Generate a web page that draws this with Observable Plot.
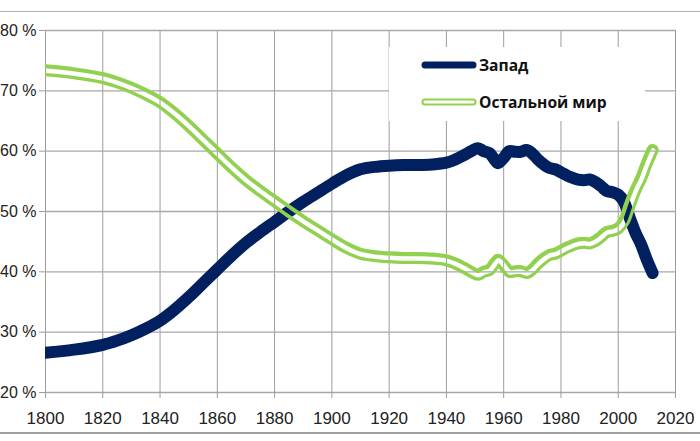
<!DOCTYPE html>
<html>
<head>
<meta charset="utf-8">
<script src="https://cdn.jsdelivr.net/npm/d3@7"></script>
<script src="https://cdn.jsdelivr.net/npm/@observablehq/plot@0.6"></script>
<style>
  body { margin: 0; background: #fff; }
  #wrap { position: relative; width: 700px; height: 441px; overflow: hidden; background: #fff; }
  .hline { position: absolute; left: 0; width: 700px; }
  #legend { position: absolute; left: 389px; top: 47px; width: 256px; height: 74px; background: #fff;
            font-family: "Open Sans", sans-serif; font-weight: 700; font-size: 15.6px; color: #111; }
  .item { position: absolute; left: 32px; display: flex; align-items: center; }
  .item span { margin-left: 2px; }
</style>
</head>
<body>
<div id="wrap">
  <div id="chart"></div>
  <div class="hline" style="top:11px;height:1px;background:#b0b0b0"></div>
  <div class="hline" style="top:432px;height:2px;background:#a0a0a0"></div>
  <div id="legend"></div>
</div>
<script>
const years = [1800,1810,1820,1825,1830,1835,1840,1845,1850,1855,1860,1865,1870,1875,1880,1885,1890,1895,1900,1905,1910,1915,1920,1925,1930,1935,1940,1943,1946,1949,1951,1953,1955,1957,1958,1960,1962,1964,1966,1968,1970,1972,1974,1976,1978,1980,1982,1984,1986,1988,1990,1992,1994,1996,1998,2000,2002,2004,2006,2008,2010,2012];
const west = [26.6,27.1,27.9,28.6,29.5,30.6,31.9,33.7,35.8,38.1,40.4,42.7,44.8,46.6,48.3,50.0,51.6,53.1,54.6,56.0,57.0,57.4,57.6,57.7,57.7,57.8,58.1,58.6,59.3,60.1,60.5,60.0,59.7,58.5,58.0,58.9,60.0,59.9,59.9,60.2,59.6,58.6,57.8,57.2,57.0,56.5,56.0,55.6,55.3,55.2,55.3,54.9,54.2,53.4,53.2,52.8,51.6,49.0,46.5,44.5,42.0,39.8];
const rest = [73.4,72.9,72.1,71.4,70.5,69.4,68.1,66.3,64.2,61.9,59.6,57.3,55.2,53.4,51.7,50.0,48.4,46.9,45.4,44.0,43.0,42.6,42.4,42.3,42.3,42.2,41.9,41.4,40.7,39.9,39.5,40.0,40.3,41.5,42.0,41.1,40.0,40.1,40.1,39.8,40.4,41.4,42.2,42.8,43.0,43.5,44.0,44.4,44.7,44.8,44.7,45.1,45.8,46.6,46.8,47.2,48.4,51.0,53.5,55.5,58.0,60.2];
const seriesNames = ["Запад", "Остальной мир"];
const yTicks = [20,30,40,50,60,70,80];
const xTicks = [1800,1820,1840,1860,1880,1900,1920,1940,1960,1980,2000,2020];

const navy = "#002060";
const green = "#92d050";

const westData = years.map((y, i) => ({year: y, value: west[i]}));
const restData = years.map((y, i) => ({year: y, value: rest[i]}));

const chart = Plot.plot({
  width: 700,
  height: 441,
  marginTop: 30,
  marginBottom: 49,
  marginLeft: 45,
  marginRight: 25,
  style: {fontFamily: "Liberation Sans, Arial, sans-serif", fontSize: "17px", color: "#222", background: "#fff"},
  x: {domain: [1800, 2020], ticks: xTicks, tickFormat: d => String(d), label: null},
  y: {domain: [20, 80], ticks: yTicks, tickFormat: d => d + " %", label: null},
  marks: [
    Plot.gridX(xTicks, {stroke: "#9c9c9c", strokeOpacity: 1, strokeWidth: 1}),
    Plot.gridY(yTicks, {stroke: "#a8a8a8", strokeOpacity: 1, strokeWidth: 1.3}),
    Plot.axisX({ticks: xTicks, tickFormat: d => String(d), tickSize: 6, tickPadding: 13, stroke: "#9c9c9c", label: null}),
    Plot.axisY({ticks: yTicks, tickFormat: d => d + " %", tickSize: 6, tickPadding: 3, stroke: "#9c9c9c", label: null, fontSize: 16}),
    Plot.line(westData, {x: "year", y: "value", stroke: navy, strokeWidth: 12, curve: "catmull-rom", strokeLinecap: "round", strokeLinejoin: "round", clip: true}),
    Plot.line(restData, {x: "year", y: "value", stroke: green, strokeWidth: 12, curve: "catmull-rom", strokeLinecap: "round", strokeLinejoin: "round", clip: true})
  ]
});
document.getElementById("chart").appendChild(chart);

// make the green line a hollow "double" line (gap shows what is underneath)
const svg = d3.select(chart);
const restG = svg.selectAll("g").filter(function() { return this.getAttribute("stroke") === green; });
const restPath = restG.select("path");
if (!restPath.empty()) {
  const defs = svg.insert("defs", ":first-child");
  const mask = defs.append("mask").attr("id", "hollow").attr("maskUnits", "userSpaceOnUse")
    .attr("x", 0).attr("y", 0).attr("width", 700).attr("height", 441);
  mask.append("rect").attr("x", 0).attr("y", 0).attr("width", 700).attr("height", 441).attr("fill", "white");
  mask.append("path").attr("d", restPath.attr("d"))
    .attr("transform", restG.attr("transform"))
    .attr("fill", "none").attr("stroke", "black").attr("stroke-width", 4.5)
    .attr("stroke-linecap", "round").attr("stroke-linejoin", "round");
  restG.attr("mask", "url(#hollow)");
}

// legend
const legend = document.getElementById("legend");
const sw = (i) => i === 0
  ? `<svg width="56" height="10"><line x1="4" y1="5" x2="52" y2="5" stroke="${navy}" stroke-width="7" stroke-linecap="round"/></svg>`
  : `<svg width="56" height="10"><line x1="4" y1="5" x2="52" y2="5" stroke="${green}" stroke-width="7" stroke-linecap="round"/><line x1="4" y1="5" x2="52" y2="5" stroke="#fff" stroke-width="3" stroke-linecap="round"/></svg>`;
seriesNames.forEach((name, i) => {
  const d = document.createElement("div");
  d.className = "item";
  d.style.top = (i === 0 ? 7 : 44) + "px";
  d.innerHTML = sw(i) + `<span>${name}</span>`;
  legend.appendChild(d);
});
</script>
</body>
</html>
